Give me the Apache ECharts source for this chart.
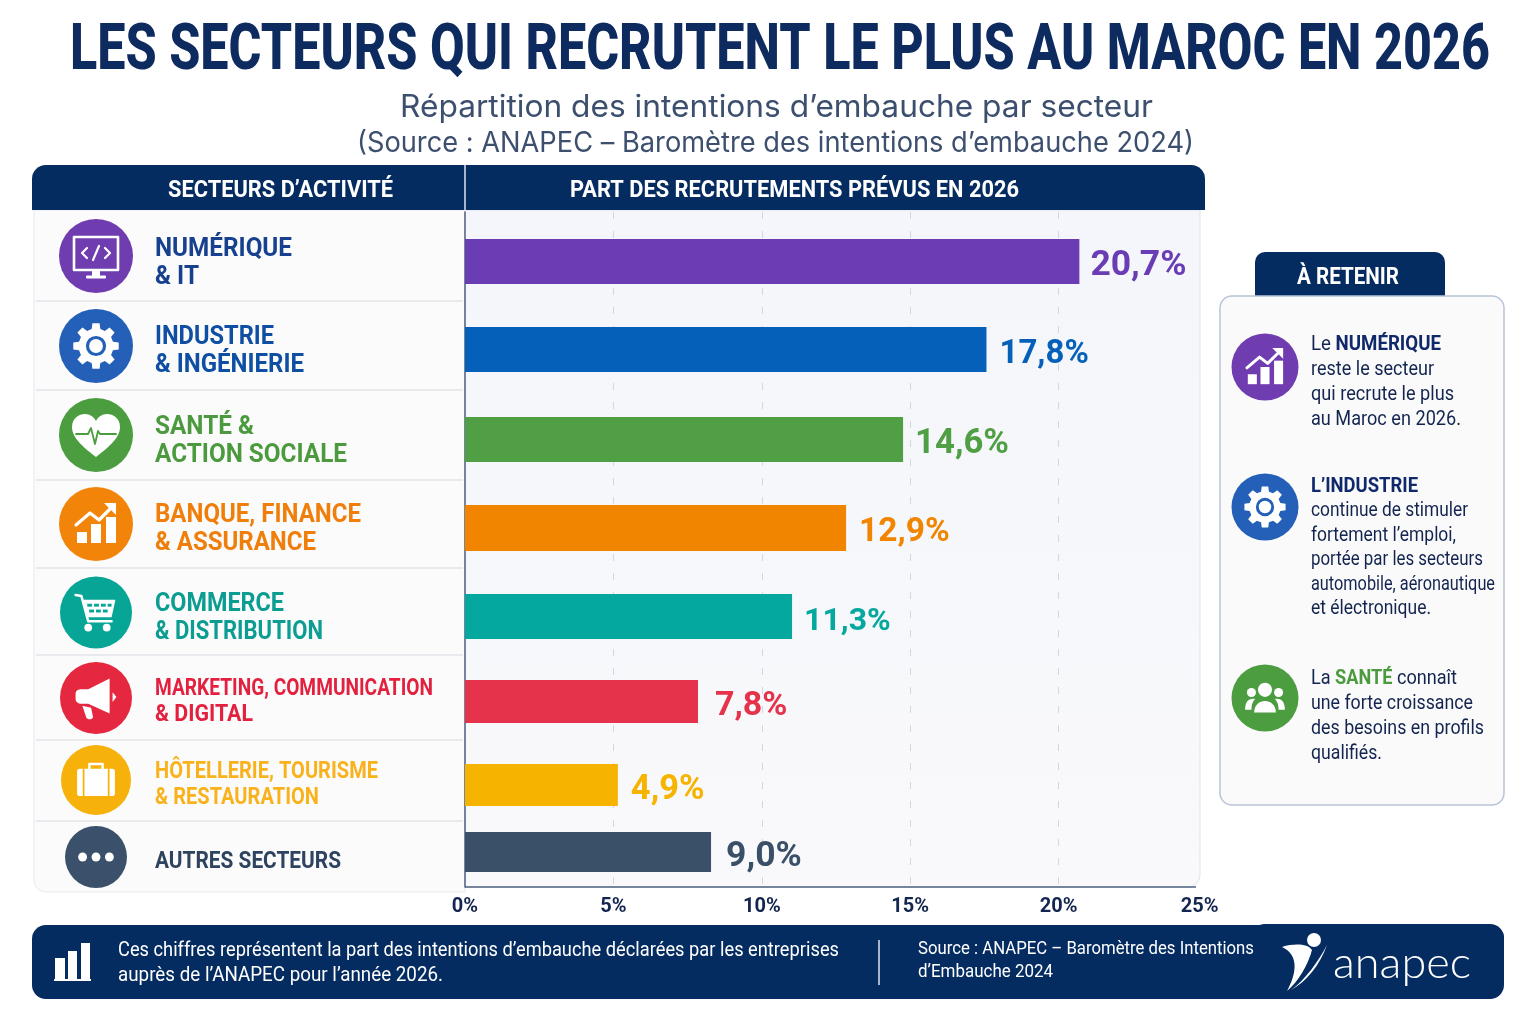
<!DOCTYPE html>
<html lang="fr"><head><meta charset="utf-8"><title>Secteurs qui recrutent</title>
<script src="https://cdn.jsdelivr.net/npm/echarts@6/dist/echarts.min.js"></script>
<style>html,body{margin:0;background:#fff}#c{width:1536px;height:1024px}</style></head>
<body><div id="c"></div>
<script>
// ---------- data ----------
const sectors = ["NUMÉRIQUE\n& IT","INDUSTRIE\n& INGÉNIERIE","SANTÉ &\nACTION SOCIALE","BANQUE, FINANCE\n& ASSURANCE","COMMERCE\n& DISTRIBUTION","MARKETING, COMMUNICATION\n& DIGITAL","HÔTELLERIE, TOURISME\n& RESTAURATION","AUTRES SECTEURS"];
const printedShares = ["20,7%","17,8%","14,6%","12,9%","11,3%","7,8%","4,9%","9,0%"];
const drawnBarLengths = [20.7,17.57,14.76,12.84,11.02,7.85,5.15,8.29];
const axisTicks = [0,5,10,15,20,25];

// ---------- styling ----------
const NAVY='#052c61', INK='#16264d';
const barColors=['#6a3db5','#0560b9','#509f45','#f28500','#04a89e','#e4334a','#f6b300','#3a5068'];
const iconColors=['#6f3db0','#2460b8','#4c9c40','#f28509','#07a596','#e5283f','#f6b20a','#3a506b'];
const textColors=['#17418f','#0f4fa3','#4c9a3e','#f07e0a','#0b9c92','#e3213f','#f9b21c','#2e435f'];
const barTop=[239,327,417,505,594,680,764,832], barH=[45,45,45,46,45,43,42,40];
const labelSize=[35.5,33,34.7,33.5,32,34,34.5,35.5];
const labelGap=[11,13,12,13,12,17,13,15];
const rowSeps=[301,390,480,568,655,740,821];
const iconPos=[[96,256,37],[96,346,37],[96,435,37],[96,524,37],[96,612.5,36],[96,698,36],[96,780,35],[96,857,31]];
const catWidths=[[137,44],[119,149],[99,192],[206,161],[129,168],[278,98],[223,164],[186]];
const catY=[[247,275],[335,363],[425,453],[513,541],[602,630],[687,713],[770,796],[860]];
const catSize=[25,25,25,25,25,23,23,23];

const ctx=document.createElement('canvas').getContext('2d');
const ROBOTO='Roboto';
const g=[];
function mw(t,w,s,f){ctx.font=`${w} ${s}px "${f}"`;return ctx.measureText(t).width;}
function txt(t,x,y,width,size,weight,fill,family){
  family=family||ROBOTO;
  const sx=width/mw(t,weight,size,family);
  g.push({type:'text',x,y:y+size*0.09,scaleX:sx,silent:true,style:{text:t,fontFamily:family,fontSize:size,fontWeight:weight,fill,textAlign:'left',textVerticalAlign:'middle'}});
}
function runs(parts,x,y,width,size,family){
  let tot=0;parts.forEach(p=>tot+=mw(p[0],p[1],size,family||ROBOTO));
  const sx=width/tot;let cx=x;
  parts.forEach(p=>{g.push({type:'text',x:cx,y:y+size*0.09,scaleX:sx,silent:true,style:{text:p[0],fontFamily:family||ROBOTO,fontSize:size,fontWeight:p[1],fill:p[2],textAlign:'left',textVerticalAlign:'middle'}});
    cx+=mw(p[0],p[1],size,family||ROBOTO)*sx;});
}
function rect(x,y,w,h,r,fill,stroke,lw){g.push({type:'rect',silent:true,shape:{x,y,width:w,height:h,r},style:{fill,stroke:stroke||null,lineWidth:lw||0}});}
function line(x1,y1,x2,y2,stroke,lw){g.push({type:'line',silent:true,shape:{x1,y1,x2,y2},style:{stroke,lineWidth:lw||1}});}

// ---------- icons (local coordinates, radius 37) ----------
const W='#fff';
let shapeId=0;
function pathShape(d){const name='svgp'+(shapeId++);echarts.graphic.registerShape(name,echarts.graphic.extendPath(d,{}));return name;}
const P=(d,fill,stroke,lw)=>({type:pathShape(d),silent:true,style:{fill:fill||null,stroke:stroke||null,lineWidth:lw||0,lineJoin:'round',lineCap:'round'}});
const C=(cx,cy,r,fill,stroke,lw)=>({type:'circle',shape:{cx,cy,r},style:{fill:fill||null,stroke:stroke||null,lineWidth:lw||0}});
const R=(x,y,w,h,fill,r)=>({type:'rect',shape:{x,y,width:w,height:h,r:r||0},style:{fill}});
function gearPath(ro,ri,n){let d='';const st=Math.PI*2/n;for(let i=0;i<n;i++){const a=i*st;
  const pts=[[ri,a-st*.32],[ro,a-st*.2],[ro,a+st*.2],[ri,a+st*.32]];
  pts.forEach((p,k)=>{d+=(i===0&&k===0?'M':'L')+(p[0]*Math.cos(p[1])).toFixed(2)+','+(p[0]*Math.sin(p[1])).toFixed(2)+' ';});}
  return d+'Z';}
const icons={
 monitor:c=>[P('M-22,-19 H22 V14 H-22 Z',null,W,2.6),P('M-9,-8 L-14,-3 L-9,2 M9,-8 L14,-3 L9,2 M3,-10 L-3,4',null,W,2.2),R(-4,14,8,6,W),R(-10,19.5,20,3,W,1)],
 gear:c=>[P(gearPath(23,17.5,8),W),C(0,0,8.5,W,c,3.2)],
 heart:c=>[P('M0,22 C-10,14 -24,4 -24,-8 C-24,-17 -17,-21 -11,-21 C-6,-21 -2,-18 0,-14 C2,-18 6,-21 11,-21 C17,-21 24,-17 24,-8 C24,4 10,14 0,22 Z',W),P('M-20,-1 L-8,-1 L-5,-7 L-1,9 L2,-4 L4,-1 L20,-1',null,c,1.8)],
 chart:c=>[R(-19,8,10,11,W),R(-5,0,10,19,W),R(10,-7,10,26,W),P('M-20,1 L-6,-11 L3,-4 L15,-16',null,W,3.2),P('M20,-21 L8,-21 L20,-9 Z',W)],
 cart:c=>[P('M-21,-18 L-15,-17 L-8,9 L16,9',null,W,2.6),P('M-13,-13 H20 L16,5 H-9 Z',W),
   R(-9,-9,5,3,c),R(-2,-9,5,3,c),R(5,-9,5,3,c),R(12,-9,4,3,c),R(-7,-3,5,3,c),R(0,-3,5,3,c),R(7,-3,5,3,c),C(-8,15.5,4,W),C(11,15.5,4,W)],
 mega:c=>[P('M-21,-4 C-21,-8 -18,-9 -15,-9 H-8 L14,-20 V16 L-8,6 H-15 C-18,6 -21,4 -21,1 Z',W),P('M-14,8 L-5,10 L-3,20 C-5,23 -9,22 -10,20 Z',W),P('M17,-6 L21,-1 L17,4 Z',W)],
 case:c=>[R(-20,-12,40,29,W,3),P('M-7,-12 V-17 H7 V-12',null,W,2.6),R(-14,-12,1.8,29,c),R(12.5,-12,1.8,29,c)],
 dots:c=>[C(-16,0,5.3,W),C(0,0,5.3,W),C(16,0,5.3,W)],
 people:c=>[C(0,-9,7.8,W),C(-15,-6,5,W),C(15,-6,5,W),P('M-12,16 C-12,-1 12,-1 12,16 Z',W),P('M-22,13 C-22,2 -16,0 -11,1 C-14,4 -15,8 -15,13 Z',W),P('M22,13 C22,2 16,0 11,1 C14,4 15,8 15,13 Z',W)]
};
function icon(name,x,y,r,col){
  const s=r/37;
  g.push({type:'group',x,y,scaleX:s,scaleY:s,silent:true,children:[C(0,0,37,col)].concat(icons[name](col))});
}

// ---------- page furniture ----------
txt('LES SECTEURS QUI RECRUTENT LE PLUS AU MAROC EN 2026',70,47,1420,65,800,'#0e2b60');
txt('Répartition des intentions d’embauche par secteur',400,105,753,31,400,'#3d4f6e','Inter');
txt('(Source : ANAPEC – Baromètre des intentions d’embauche 2024)',357,141,837,28,400,'#3d4f6e','Inter');

rect(34,210,431,682,[0,0,0,12],'#fbfbfc','#e7e9ee',1);
rect(465,210,735,677,[0,0,12,0],{type:'linear',x:0,y:0,x2:0,y2:1,colorStops:[{offset:0,color:'#f4f6fb'},{offset:1,color:'#f9f9fb'}]},'#e0e3ea',1);
rect(32,165,1173,45,[14,14,0,0],NAVY);
line(465,165,465,210,'#dfe5ef',1.5);
txt('SECTEURS D’ACTIVITÉ',168,189,225,23,700,W);
txt('PART DES RECRUTEMENTS PRÉVUS EN 2026',570,189,449,23,700,W);
rowSeps.forEach(y=>line(36,y,463,y,'#e2e5ea',1.5));
line(465,887,1196,887,'#4d6280',1.5);

['monitor','gear','heart','chart','cart','mega','case','dots'].forEach((n,i)=>icon(n,iconPos[i][0],iconPos[i][1],iconPos[i][2],iconColors[i]));
sectors.forEach((s,i)=>s.split('\n').forEach((l,k)=>txt(l,155,catY[i][k],catWidths[i][k],catSize[i],700,textColors[i])));

// side panel
rect(1255,252,190,50,[10,10,0,0],NAVY);
rect(1220,296,284,509,12,'#fafafb','#b9c4d6',1.5);
txt('À RETENIR',1297,276,102,23,700,W);
icon('chart',1265,367,33.5,iconColors[0]);
icon('gear',1265,507,33.5,iconColors[1]);
icon('people',1265,698,33.5,iconColors[2]);
const B='#13244f', BLD='#10296a';
runs([['Le ',400,B],['NUMÉRIQUE',700,BLD]],1311,343,130,20);
txt('reste le secteur',1311,368,123,20,400,B);
txt('qui recrute le plus',1311,393,143,20,400,B);
txt('au Maroc en 2026.',1311,418,150,20,400,B);
runs([['L’INDUSTRIE',700,BLD]],1311,485,107,20);
txt('continue de stimuler',1311,509,157,20,400,B);
txt('fortement l’emploi,',1311,534,145,20,400,B);
txt('portée par les secteurs',1311,558,172,20,400,B);
txt('automobile, aéronautique',1311,583,184,20,400,B);
txt('et électronique.',1311,607,120,20,400,B);
runs([['La ',400,B],['SANTÉ',700,'#4c9a3e'],[' connaît',400,B]],1311,677,146,20);
txt('une forte croissance',1311,702,162,20,400,B);
txt('des besoins en profils',1311,727,173,20,400,B);
txt('qualifiés.',1311,752,71,20,400,B);

// footer
rect(1254,924,250,30,[10,14,0,0],NAVY);
rect(32,925,1472,74,14,NAVY);
[[55,958,10,21],[68,951,9,28],[81,943,9,36]].forEach(a=>rect(a[0],a[1],a[2],a[3],0,W));
rect(54,979,37,2,0,W);
txt('Ces chiffres représentent la part des intentions d’embauche déclarées par les entreprises',118,949,721,20,400,W);
txt('auprès de l’ANAPEC pour l’année 2026.',118,974,325,20,400,W);
line(879,940,879,985,'#dfe5ef',1.5);
txt('Source : ANAPEC – Baromètre des Intentions',918,948,336,19,400,W);
txt('d’Embauche 2024',918,971,135,19,400,W);
g.push(P('M1282,947 C1295,943 1308,944 1312,950 C1308,965 1298,982 1287,991 C1296,975 1300,955 1282,947 Z',W));
g.push(P('M1291,990 C1305,980 1318,962 1327,945 C1320,965 1306,982 1291,990 Z',W));
g.push({type:'circle',silent:true,shape:{cx:1314,cy:940,r:7},style:{fill:W}});
txt('anapec',1333,960,138,44,300,W,'Lato');

// ---------- chart: one shared axis grid + one row grid per (unevenly spaced) sector ----------
const grids=[{left:465,top:212,width:742,height:675}];
const xAxes=[{gridIndex:0,type:'value',min:0,max:25,interval:5,z:1,
  axisLine:{show:false},axisTick:{show:false},
  axisLabel:{margin:10,color:'#13264f',fontFamily:'Roboto',fontWeight:700,fontSize:20,
    customValues:axisTicks,formatter:v=>v+'%'+(v===25?'   ':'')},
  splitLine:{show:true,showMinLine:false,showMaxLine:false,lineStyle:{type:[7,12],color:'#d3d6dd',width:1}}}];
const yAxes=[{gridIndex:0,type:'category',data:[''],z:1,axisTick:{show:false},axisLabel:{show:false},splitLine:{show:false},
  axisLine:{show:true,lineStyle:{color:'#4d6280',width:1.5}}}];
const series=[];
sectors.forEach((s,i)=>{
  const k=i+1;
  grids.push({left:465,width:742,top:barTop[i],height:barH[i]});
  xAxes.push({gridIndex:k,type:'value',min:0,max:25,show:false});
  yAxes.push({gridIndex:k,type:'category',data:[s],show:false});
  series.push({type:'bar',name:s,xAxisIndex:k,yAxisIndex:k,data:[drawnBarLengths[i]],barWidth:'100%',
    itemStyle:{color:barColors[i]},silent:true,z:3,
    label:{show:true,position:'right',distance:labelGap[i],offset:[0,5],formatter:()=>printedShares[i],color:barColors[i],
      fontFamily:'Roboto',fontWeight:700,fontSize:labelSize[i]}});
});

const chart=echarts.init(document.getElementById('c'),null,{renderer:'canvas'});
chart.setOption({animation:false,backgroundColor:'#ffffff',grid:grids,xAxis:xAxes,yAxis:yAxes,series,graphic:{elements:g}});
</script></body></html>
